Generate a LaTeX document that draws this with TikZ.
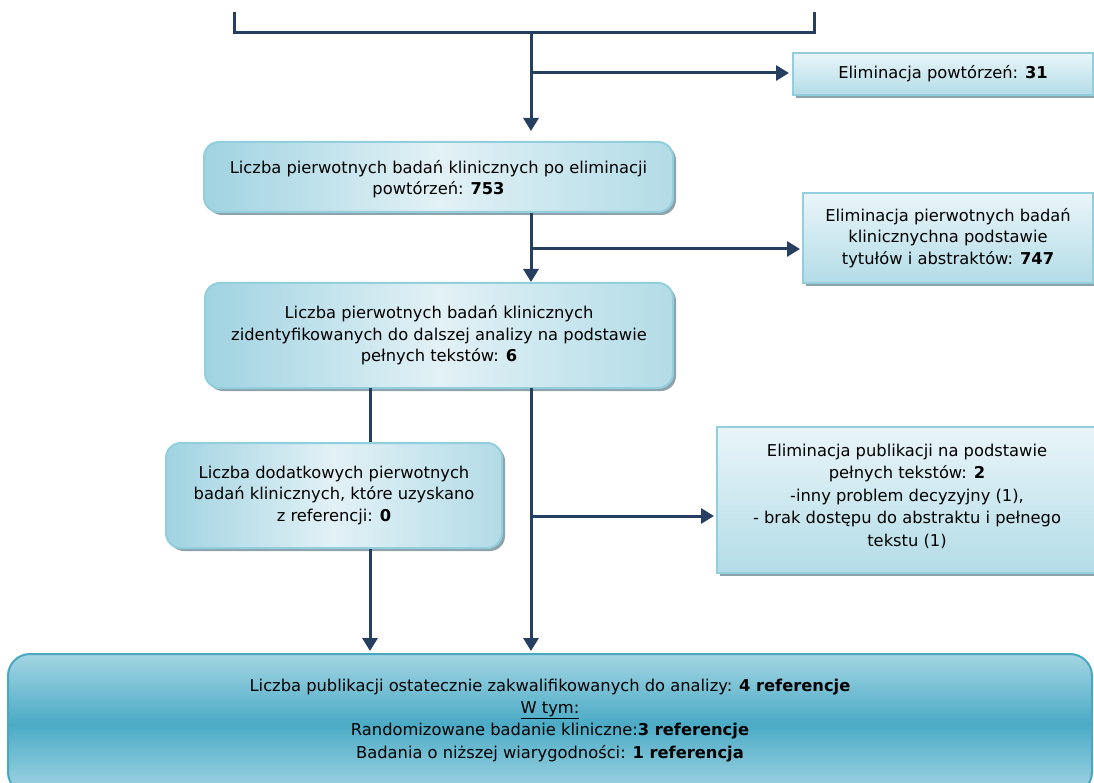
\documentclass[tikz,border=0pt]{standalone}
\usepackage{fontspec}
\setmainfont{DejaVu Sans}
\usetikzlibrary{arrows.meta,shadows,calc}
\definecolor{navy}{HTML}{263E5F}
\definecolor{edgeblue}{HTML}{93CEDC}
\definecolor{lightA}{HTML}{E9F5F9}
\definecolor{lightB}{HTML}{B3DCE7}
\definecolor{roundA}{HTML}{A0D3E1}
\definecolor{roundB}{HTML}{E2F1F6}
\definecolor{botTop}{HTML}{A3D5E3}
\definecolor{botMid}{HTML}{4BABC6}
\definecolor{botEdge}{HTML}{4AA7C2}
\definecolor{shade}{HTML}{8DA2AA}
\tikzset{
  txt/.style={font=\fontsize{16.3}{21.5}\selectfont, align=center, text=black},
  shad/.style={drop shadow={shadow xshift=3pt, shadow yshift=-3pt, fill=shade, opacity=1}},
  rectbox/.style={txt, shad, draw=edgeblue, line width=2pt, top color=lightA, bottom color=lightB, inner sep=0pt},
  roundbox/.style={txt, shad, draw=edgeblue, line width=2pt, rounded corners=15pt, left color=roundA, right color=roundA!80!white, middle color=roundB, inner sep=0pt},
  botbox/.style={txt, draw=botEdge, line width=2pt, rounded corners=22pt, top color=botTop, bottom color=botTop, middle color=botMid, inner sep=0pt},
  conn/.style={draw=navy, line width=3pt},
  arr/.style={conn, -{Triangle[length=13pt,width=15pt]}},
}
\begin{document}
\begin{tikzpicture}[x=1pt,y=-1pt]
\useasboundingbox (0,0) rectangle (1094,783);
% boxes
\node[rectbox, minimum width=300pt, minimum height=42pt] (b1) at (943,74) {Eliminacja powtórzeń: \textbf{31}};
\node[roundbox, minimum width=469pt, minimum height=70pt] (b2) at (438.5,177) {\raisebox{-7pt}[0pt][0pt]{\begin{tabular}{@{}c@{}}Liczba pierwotnych badań klinicznych po eliminacji\\powtórzeń: \textbf{753}\end{tabular}}};
\node[rectbox, minimum width=290pt, minimum height=90pt] (b3) at (948,238) {Eliminacja pierwotnych badań\\klinicznychna podstawie\\tytułów i abstraktów: \textbf{747}};
\node[roundbox, minimum width=468pt, minimum height=105pt] (b4) at (439,335.5) {Liczba pierwotnych badań klinicznych\\zidentyfikowanych do dalszej analizy na podstawie\\pełnych tekstów: \textbf{6}};
\node[roundbox, minimum width=336pt, minimum height=105pt] (b5) at (334,495.5) {Liczba dodatkowych pierwotnych\\badań klinicznych, które uzyskano\\z referencji: \textbf{0}};
\node[rectbox, minimum width=380pt, minimum height=146pt] (b6) at (907,500) {\fontsize{16.3}{22.5}\selectfont\raisebox{-1pt}[0pt][0pt]{\begin{tabular}{@{}c@{}}Eliminacja publikacji na podstawie\\pełnych tekstów: \textbf{2}\\-inny problem decyzyjny (1),\\- brak dostępu do abstraktu i pełnego\\tekstu (1)\end{tabular}}};
\node[botbox, minimum width=1084pt, minimum height=140pt] (b7) at (550,724) {\fontsize{16.3}{22.3}\selectfont\raisebox{-0.5pt}[0pt][0pt]{\begin{tabular}{@{}c@{}}Liczba publikacji ostatecznie zakwalifikowanych do analizy: \textbf{4 referencje}\\\underline{W tym:}\\Randomizowane badanie kliniczne:\textbf{3 referencje}\\Badania o niższej wiarygodności: \textbf{1 referencja}\end{tabular}}};
% top bracket
\coordinate (tl) at (234,14);
\coordinate (tr) at (814,14);
\coordinate (top) at (531,33);
\coordinate (j1) at (531,73);
\coordinate (j2) at (531,249);
\coordinate (j3) at (531,516);
\coordinate (l1) at (370,388);
\coordinate (r1) at (531,388);
\draw[conn, line cap=rect] (tl) -- (tl |- top) -- (tr |- top) -- (tr);
\draw[arr, shorten >=10pt] (top) -- (top |- b2.north);
\draw[arr, shorten >=3pt] (j1) -- (j1 -| b1.west);
\draw[arr] (top |- b2.south) -- (top |- b4.north);
\draw[arr, shorten >=2pt] (j2) -- (j2 -| b3.west);
\draw[conn] (l1) -- (l1 |- b5.north);
\draw[arr, shorten >=2pt] (l1 |- b5.south) -- (l1 |- b7.north);
\draw[arr, shorten >=2pt] (r1) -- (r1 |- b7.north);
\draw[arr, shorten >=2pt] (j3) -- (j3 -| b6.west);
\end{tikzpicture}
\end{document}
